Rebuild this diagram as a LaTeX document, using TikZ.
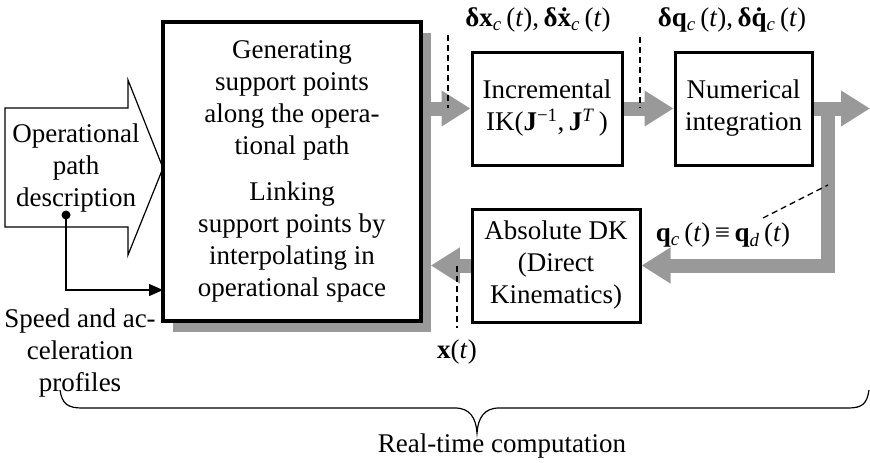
\documentclass[tikz,border=0pt]{standalone}
\usepackage{fontspec}
\setmainfont{Liberation Serif}
\usetikzlibrary{arrows.meta,shadows,backgrounds}

\newcommand{\bv}[1]{\textbf{#1}}
\newcommand{\lsub}[1]{\textsubscript{\textit{#1}}}
\newcommand{\dotv}[1]{{\ooalign{\textbf{#1}\cr\hidewidth\textbf{˙}\hidewidth\cr}}}

\begin{document}
\begin{tikzpicture}[
  x=1pt,
  y=-1pt,
  every node/.style={font=\fontsize{27}{32}\selectfont, align=center},
  block/.style={draw, line width=3pt, fill=white, inner sep=0pt},
  bigblock/.style={draw, line width=3.5pt, fill=white, inner sep=0pt,
    drop shadow={shadow xshift=10pt, shadow yshift=-11pt, fill=black!40, opacity=1}},
  flow/.style={draw=black!40, line width=14pt, -{Triangle[length=29pt,width=34pt]}},
  signal/.style={line width=1.3pt, -{Triangle[length=14pt,width=12pt]}},
  pointer/.style={line width=1.3pt, dash pattern=on 6pt off 4pt},
  lbl/.style={inner sep=0pt}
]
\useasboundingbox (0,0) rectangle (870,463);

% path description arrow
\draw[line width=1.2pt] (5,108) -- (128,108) -- (128,80) -- (163,168)
  -- (128,255) -- (128,227) -- (5,227) -- cycle;
\node (opd) at (76,168) {Operational\\path\\description};

% blocks
\node[bigblock, minimum width=258pt, minimum height=299pt] (main) at (292,171.5)
  {Generating\\support points\\along the opera-\\tional path\\[14pt]
   Linking\\support points by\\interpolating in\\operational space};
\node[block, minimum width=150pt, minimum height=113pt] (inc) at (547,108.5)
  {Incremental\\IK(\bv{J}\textsuperscript{−1},\,\bv{J}\textsuperscript{\textit{T}}\,)};
\node[block, minimum width=137pt, minimum height=113pt] (num) at (743.5,108.5)
  {Numerical\\integration};
\node[block, minimum width=168pt, minimum height=113pt] (dk) at (556,265.5)
  {Absolute DK\\(Direct\\Kinematics)};

% gray signal flow
\coordinate (out) at (870,108.5);
\begin{scope}[on background layer]
\draw[flow] ([xshift=6pt]main.east |- inc.west) -- (inc.west);
\draw[flow] (inc.east) -- (num.west);
\draw[flow] (num.east) -- (out);
\draw[flow] ([xshift=14pt]num.east) |- (dk.east);
\draw[flow] (dk.west) -- ([xshift=8pt]main.east |- dk.west);
\end{scope}

% speed and acceleration input
\coordinate (src) at (66,215);
\coordinate (spd) at (163,290);
\fill (src) circle (4.5pt);
\draw[signal] (src) |- (spd);
\node (prof) at (80,353) {Speed and ac-\\celeration\\profiles};

% signal labels
\node[lbl] (dxlab) at (538,20)
  {\bv{δx}\lsub{c}\,(\textit{t}),\,\bv{δ}\dotv{x}\lsub{c}\,(\textit{t})};
\node[lbl] (dqlab) at (732,20)
  {\bv{δq}\lsub{c}\,(\textit{t}),\,\bv{δ}\dotv{q}\lsub{c}\,(\textit{t})};
\node[lbl] (qlab) at (723,235)
  {\bv{q}\lsub{c}\,(\textit{t})\,≡\,\bv{q}\lsub{d}\,(\textit{t})};
\node[lbl] (xlab) at (457,352) {\bv{x}(\textit{t})};

\coordinate (p1a) at (448,35);  \coordinate (p1b) at (448,108);
\coordinate (p2a) at (640,37);  \coordinate (p2b) at (640,108);
\coordinate (p3a) at (457,266); \coordinate (p3b) at (457,328);
\coordinate (p4a) at (763,218); \coordinate (p4b) at (828,185);
\draw[pointer] (p1a) -- (p1b);
\draw[pointer] (p2a) -- (p2b);
\draw[pointer] (p3a) -- (p3b);
\draw[pointer] (p4a) -- (p4b);

% real-time brace
\draw[line width=1.2pt] (60,390) .. controls (62,404) and (68,408) .. (82,408)
  -- (455,408) .. controls (470,408) and (476,418) .. (477,433)
  .. controls (478,418) and (484,408) .. (499,408)
  -- (848,408) .. controls (862,408) and (867,404) .. (869,390);
\node (rtc) at (502,446) {Real-time computation};
\end{tikzpicture}
\end{document}
